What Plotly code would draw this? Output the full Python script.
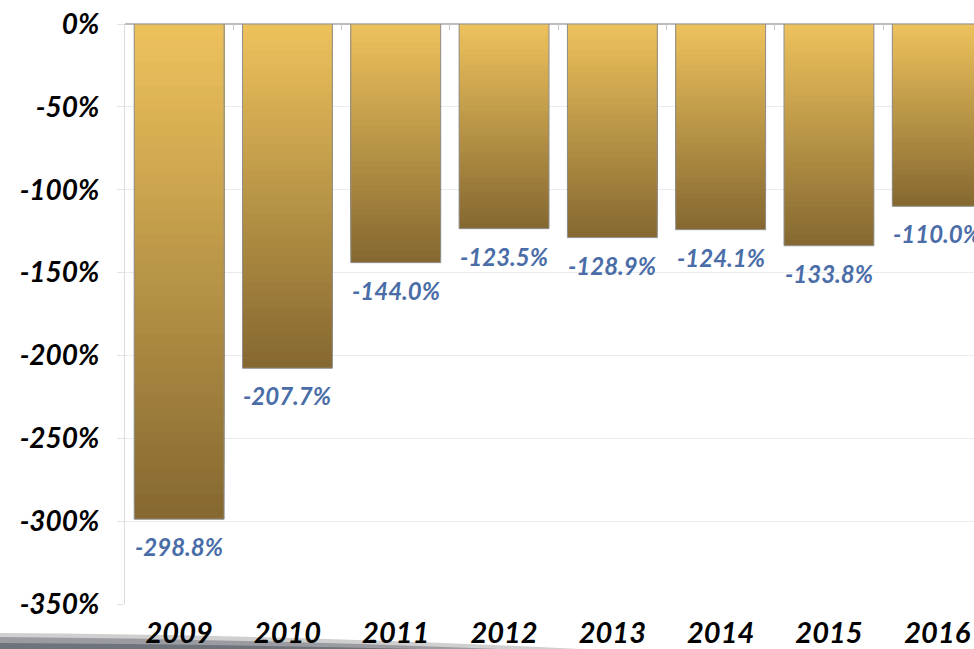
import plotly.graph_objects as go

# Yearly values (percent)
years = ["2009", "2010", "2011", "2012", "2013", "2014", "2015", "2016"]
values = [-298.8, -207.7, -144.0, -123.5, -128.9, -124.1, -133.8, -110.0]

y_ticks = [0, -50, -100, -150, -200, -250, -300, -350]
y_tick_text = [f"{t}%" for t in y_ticks]

W, H = 974, 649
L, R, T, B = 125, 0, 24, 45

TOP_RGB = (239, 195, 93)
BOT_RGB = (134, 105, 49)
STEPS = 40

fig = go.Figure()

# Vertical gradient inside each bar: stack progressively shorter, lighter bars
for k in range(STEPS, 0, -1):
    f = k / STEPS
    c = tuple(round(TOP_RGB[i] + (BOT_RGB[i] - TOP_RGB[i]) * f) for i in range(3))
    fig.add_trace(go.Bar(
        x=list(range(len(years))),
        y=[v * f for v in values],
        width=0.83,
        marker=dict(color=f"rgb{c}", line=dict(width=0)),
        hoverinfo="skip",
        showlegend=False,
    ))

# Outline of each bar
fig.add_trace(go.Bar(
    x=list(range(len(years))),
    y=values,
    width=0.83,
    marker=dict(color="rgba(0,0,0,0)", line=dict(color="#8f8f8f", width=1)),
    showlegend=False,
))

# Value labels just below each bar end
label_font = dict(family="Lato", size=24, color="#4a6da8", weight="bold", style="italic")
for i, v in enumerate(values):
    fig.add_annotation(x=i, y=v, text=f"{v:.1f}%", showarrow=False,
                       xanchor="center", yanchor="top", yshift=-11,
                       font=label_font)

# Invisible helper trace so the top tick axis is rendered
fig.add_trace(go.Scatter(x=[0], y=[0], xaxis="x2", mode="markers",
                         marker=dict(opacity=0), hoverinfo="skip", showlegend=False))

px_to_py = lambda py: (H - B - py) / (H - T - B)
px_to_px = lambda px: (px - L) / (W - L - R)

# Grey floor shading along the bottom edge
fig.add_shape(type="path", xref="paper", yref="paper", layer="below",
              path=(f"M {px_to_px(0)},{px_to_py(649)} L {px_to_px(0)},{px_to_py(633)} "
                    f"Q {px_to_px(300)},{px_to_py(635)} {px_to_px(580)},{px_to_py(649)} Z"),
              fillcolor="#cfcfcf", line=dict(width=0))
fig.add_shape(type="path", xref="paper", yref="paper", layer="below",
              path=(f"M {px_to_px(0)},{px_to_py(649)} L {px_to_px(0)},{px_to_py(637)} "
                    f"Q {px_to_px(250)},{px_to_py(639)} {px_to_px(500)},{px_to_py(649)} Z"),
              fillcolor="#9a9ca1", line=dict(width=0))
fig.add_shape(type="path", xref="paper", yref="paper", layer="below",
              path=(f"M {px_to_px(0)},{px_to_py(649)} L {px_to_px(0)},{px_to_py(643)} "
                    f"Q {px_to_px(200)},{px_to_py(644)} {px_to_px(420)},{px_to_py(649)} Z"),
              fillcolor="#6f737c", line=dict(width=0))

axis_font = dict(family="Lato", size=28, color="black", weight="bold", style="italic")

fig.update_layout(
    width=W, height=H,
    margin=dict(l=L, r=R, t=T, b=B),
    paper_bgcolor="white", plot_bgcolor="white",
    barmode="overlay",
    xaxis=dict(
        range=[-0.5, -0.5 + (W - L - R) / 108.3],
        tickvals=list(range(len(years))),
        ticktext=years,
        tickfont=dict(axis_font, size=29),
        showgrid=False, zeroline=False, showline=False, ticks="",
        ticklabelstandoff=9,
        fixedrange=True,
    ),
    xaxis2=dict(
        overlaying="x", side="top", anchor="y",
        range=[-0.5, -0.5 + (W - L - R) / 108.3],
        tickvals=[i + 0.5 for i in range(len(years))],
        ticks="inside", ticklen=6, tickcolor="#c8c8c8", tickwidth=1,
        showticklabels=False, showgrid=False, zeroline=False, showline=False,
    ),
    yaxis=dict(
        range=[-350, 0],
        tickvals=y_ticks, ticktext=y_tick_text,
        tickfont=axis_font,
        showgrid=True, gridcolor="#ebebeb", gridwidth=1,
        ticks="outside", ticklen=7, tickcolor="#e2e2e2",
        showline=True, linecolor="#dcdcdc", linewidth=1,
        zeroline=True, zerolinecolor="#bdbdbd", zerolinewidth=2,
        ticklabelstandoff=12,
    ),
)

fig.write_html("out.html")
